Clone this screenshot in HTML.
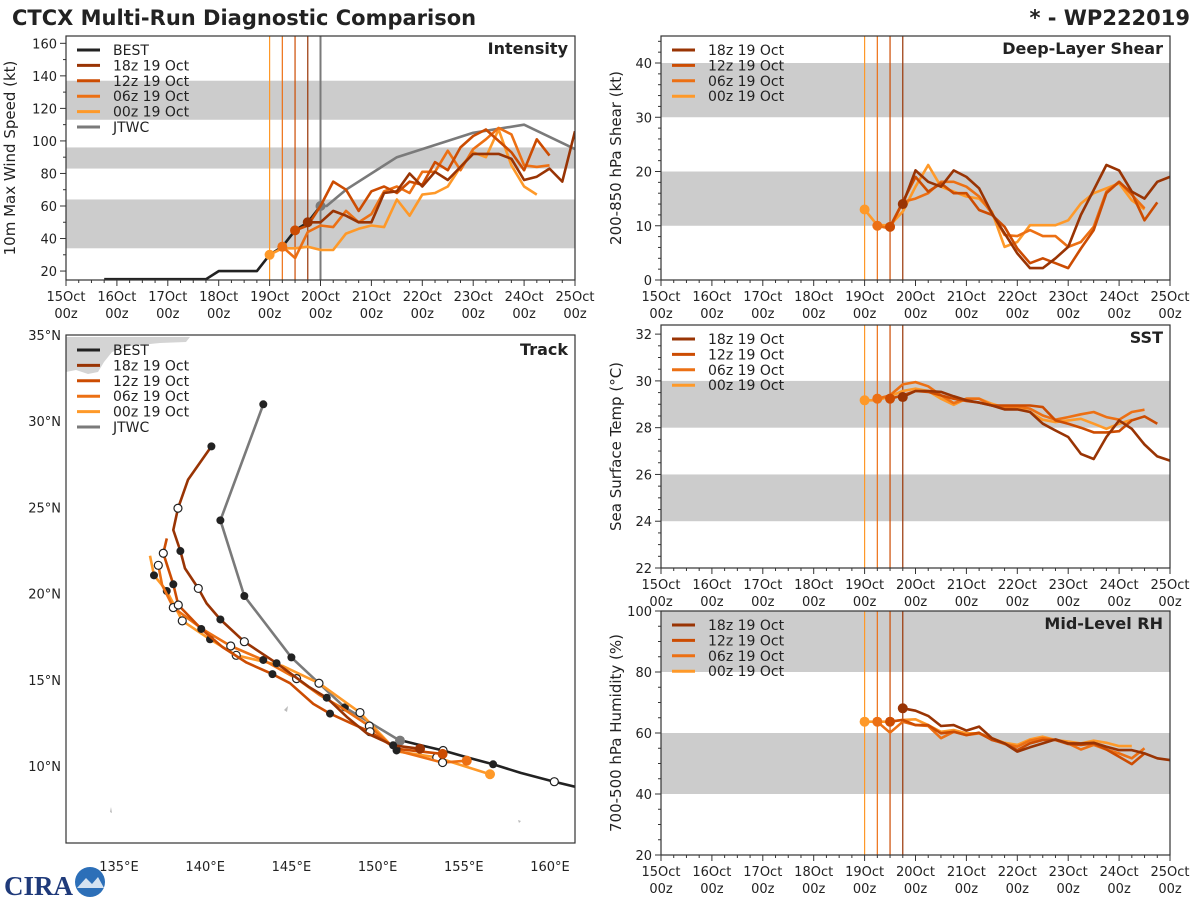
<!DOCTYPE html>
<html><head><meta charset="utf-8"><style>
html,body{margin:0;padding:0;background:#fff;}
svg{display:block;font-family:"DejaVu Sans","Liberation Sans",sans-serif;}
</style></head><body>
<svg id="chart" width="1200" height="900" viewBox="0 0 1200 900" xmlns="http://www.w3.org/2000/svg">
<text x="12" y="25" font-size="21" font-weight="bold" fill="#222">CTCX Multi-Run Diagnostic Comparison</text>
<text x="1190" y="25" font-size="21" font-weight="bold" fill="#222" text-anchor="end">* - WP222019</text>
<g>
<text x="4" y="895" font-size="27" font-weight="bold" fill="#1f3a7a" font-family="Liberation Serif, serif">CIRA</text>
<circle cx="90" cy="882" r="15" fill="#2c6fb8"/>
<path d="M77 888 L86 878 L92 884 L98 877 L104 888 Z" fill="#fff" opacity="0.8"/>
</g>
<g id="root"></g>
</svg>
<script>
// ---------- DATA ----------
const dayLabels = ['15Oct','16Oct','17Oct','18Oct','19Oct','20Oct','21Oct','22Oct','23Oct','24Oct','25Oct'];
const runNames = ['18z 19 Oct','12z 19 Oct','06z 19 Oct','00z 19 Oct'];
const runStarts = [4.75, 4.5, 4.25, 4.0];

// Intensity (kt)
const bestStart = 0.75;
const bestWind = [15,15,15,15,15,15,15,15,15,20,20,20,20,30,35,45,50,60];
const jtwcTimes = [5.0,5.12,5.5,6.5,8.0,9.0,10.0];
const jtwcWind = [60,60,70,90,105,110,95];
const wind18z = [50,50,57,54,50,50,68,69,80,72,81,76,84,92,92,92,89,76,78,83,75,106];
const wind12z = [45,48,60,75,70,57,69,72,68,75,73,87,82,96,103,107,100,93,82,101,91];
const wind06z = [35,28,44,48,47,57,50,55,69,72,68,81,81,94,82,95,101,108,104,85,84,85];
const wind00z = [30,34,34,35,33,33,43,46,48,47,64,54,67,68,72,84,93,90,107,85,72,67];

// Shear (kt)
const shear18z = [14,20.2,18.1,17.2,20.2,19,16.9,12.3,8.6,4.9,2.2,2.2,4,6.1,12,16.6,21.2,20.2,16.3,15,18.1,19];
const shear12z = [9.8,14.4,19,16.3,17.8,16,16,12.9,12,9.8,5.8,3.1,4,3.1,2.2,5.8,9.2,16,18.1,16,11,14.3];
const shear06z = [10,9.5,14.4,15,16,18.1,18.1,17.2,15.4,12.3,8.3,8.1,9.2,8.1,8.1,6.1,7,9.8,16.3,18.1,15.7,13.2];
const shear00z = [13,10.1,10.1,12.6,17.2,21.2,17.2,16.3,15.4,15,12.6,6.1,7,10.1,10.1,10.1,11,14.1,16,16.9,17.8,14.7,13];

// SST (C)
const sst18z = [29.31,29.57,29.57,29.53,29.34,29.17,29.07,28.95,28.78,28.78,28.67,28.17,27.88,27.6,26.88,26.66,27.6,28.31,27.95,27.28,26.77,26.59];
const sst12z = [29.24,29.38,29.57,29.53,29.38,29.24,29.14,29.07,28.95,28.95,28.95,28.95,28.88,28.31,28.17,28.0,27.8,27.8,27.85,28.31,28.48,28.17];
const sst06z = [29.24,29.38,29.85,29.95,29.77,29.38,29.05,29.24,29.24,28.95,28.85,28.91,28.81,28.52,28.34,28.45,28.57,28.67,28.45,28.34,28.67,28.77];
const sst00z = [29.17,29.17,29.34,29.57,29.67,29.57,29.24,28.98,29.24,29.24,29.02,28.85,28.85,28.67,28.34,28.24,28.31,28.38,28.17,27.95,28.17,28.34];

// Mid-level RH (%)
const rh18z = [68.1,67.3,65.6,62.3,62.6,60.8,62.1,58.3,56.6,53.9,55.3,56.6,57.9,56.6,56.6,56.8,55.5,54.4,54.4,53.3,51.7,51.1];
const rh12z = [63.7,64.3,62.6,62.6,59.9,60.4,59.3,60.1,57.7,56.6,54.4,56.6,57.7,57.7,56.4,56.1,56.6,54.6,52.2,49.8,53.3];
const rh06z = [63.7,60.1,63.7,62.6,62.3,58.3,60.4,59.3,59.9,57.9,56.4,55.5,57.5,58.3,57.7,56.6,54.6,56.1,54.6,53.3,51.7,55.0];
const rh00z = [63.7,63.7,63.7,64.3,64.5,62.6,60.4,61.0,59.9,59.9,58.3,56.8,56.1,57.9,58.8,57.7,57.2,56.6,57.5,56.8,55.7,55.7];

// Tracks (deg lon E, deg lat N); marks: 0 none, 1 filled, 2 open, 3 start dot
const bestLon = [151.3,152.5,153.8,155.2,156.7,158.3,160.25,161.45,162.5];
const bestLat = [11.5,11.2,10.9,10.5,10.1,9.6,9.09,8.8,8.5];
const bestMk  = [0,0,2,0,1,0,2,0,0];
const jtwcLon = [151.3,148.1,145.0,142.27,140.88,143.37];
const jtwcLat = [11.47,13.4,16.3,19.86,24.25,30.98];
const jtwcMk  = [3,1,1,1,1,1];
const trk18Lon = [152.46,150.9,149.37,148.2,147.05,146.0,144.14,142.27,140.88,140.08,139.6,138.83,138.56,138.15,138.42,139.0,140.36];
const trk18Lat = [11.0,11.2,11.9,12.86,13.96,14.6,15.96,17.21,18.5,19.43,20.3,21.46,22.47,23.69,24.95,26.6,28.54];
const trk18Mk  = [3,1,0,0,1,0,1,2,1,0,2,0,1,0,2,0,1];
const trk12Lon = [153.77,151.1,149.56,148.5,147.24,146.27,144.92,143.9,142.4,141.0,139.77,138.44,138.15,137.57,137.77];
const trk12Lat = [10.7,11.0,11.99,12.46,13.04,13.6,14.8,15.33,16.0,16.9,17.95,19.34,20.54,22.34,23.2];
const trk12Mk  = [3,1,2,0,1,0,0,1,0,0,1,2,1,2,0];
const trk06Lon = [155.17,153.77,151.1,149.52,147.82,146.66,145.3,143.37,141.48,139.9,138.15,137.5,137.28];
const trk06Lat = [10.31,10.2,10.9,12.32,13.44,14.1,15.07,16.15,16.96,17.9,19.19,20.5,21.64];
const trk06Mk  = [3,2,1,2,0,0,2,1,2,0,2,0,2];
const trk00Lon = [156.52,153.43,151.1,148.98,146.6,144.5,141.8,140.28,138.67,137.77,137.03,136.8];
const trk00Lat = [9.52,10.5,10.85,13.1,14.8,15.8,16.42,17.35,18.42,20.15,21.06,22.19];
const trk00Mk  = [3,2,0,2,2,0,2,1,2,1,1,0];

const runColors = ['#993404','#cc4c02','#ec7014','#fe9929'];
const bestColor = '#222222', jtwcColor = '#7a7a7a';

// ---------- DRAWING ----------
const NS = 'http://www.w3.org/2000/svg';
const root = document.getElementById('root');
function mk(tag, attrs, parent) {
  const e = document.createElementNS(NS, tag);
  for (const k in attrs) e.setAttribute(k, attrs[k]);
  (parent || root).appendChild(e);
  return e;
}
function label(parent, x, y, str, size, anchor, weight) {
  const t = mk('text', {x: x, y: y, 'font-size': size, 'text-anchor': anchor || 'start', fill: '#222', 'font-weight': weight || 'normal'}, parent);
  t.textContent = str;
  return t;
}

function timePanel(cfg) {
  const g = mk('g', {});
  
  
  const sx = t => cfg.x0 + t / 10 * (cfg.x1 - cfg.x0);
  const sy = v => cfg.y1 - (v - cfg.vmin) / (cfg.vmax - cfg.vmin) * (cfg.y1 - cfg.y0);
  const clipId = 'clip-' + cfg.name;
  const cp = mk('clipPath', {id: clipId}, g);
  mk('rect', {x: cfg.x0, y: cfg.y0, width: cfg.x1 - cfg.x0, height: cfg.y1 - cfg.y0}, cp);
  cfg.bands.forEach(b => {
    const r = mk('rect', {x: cfg.x0, y: sy(b[1]), width: cfg.x1 - cfg.x0, height: sy(b[0]) - sy(b[1]), fill: '#cccccc'}, g);
    
    
  });
  const plot = mk('g', {'clip-path': 'url(#' + clipId + ')'}, g);
  runStarts.forEach((t, i) => {
    const l = mk('line', {x1: sx(t), x2: sx(t), y1: cfg.y0, y2: cfg.y1, stroke: runColors[i], 'stroke-width': 1.2}, plot);
    
    
  });
  if (cfg.jtwcLine) {
    const l = mk('line', {x1: sx(5), x2: sx(5), y1: cfg.y0, y2: cfg.y1, stroke: jtwcColor, 'stroke-width': 2}, plot);
    
    
  }
  function series(times, vals, color, nm, dot) {
    const pts = vals.map((v, i) => sx(times(i)).toFixed(1) + ',' + sy(v).toFixed(1)).join(' ');
    const p = mk('polyline', {points: pts, fill: 'none', stroke: color, 'stroke-width': 2.6, 'stroke-linejoin': 'round'}, plot);
    
    
    if (dot) {
      const c = mk('circle', {cx: sx(times(0)), cy: sy(vals[0]), r: 5, fill: color}, plot);
      
      
    }
  }
  if (cfg.best) {
    series(i => bestStart + i * 0.25, bestWind, bestColor, 'best-line', false);
    series(i => jtwcTimes[i], jtwcWind, jtwcColor, 'jtwc-line', true);
  }
  for (let k = 3; k >= 0; k--) series(i => runStarts[k] + i * 0.25, cfg.runs[k], runColors[k], 'run-' + ['18z','12z','06z','00z'][k] + '-line', true);
  mk('rect', {x: cfg.x0, y: cfg.y0, width: cfg.x1 - cfg.x0, height: cfg.y1 - cfg.y0, fill: 'none', stroke: '#333', 'stroke-width': 1.2}, g);
  for (let q = 0; q <= 40; q++) {
    const x = sx(q / 4), maj = q % 4 === 0;
    mk('line', {x1: x, x2: x, y1: cfg.y1, y2: cfg.y1 + (maj ? 6 : 3), stroke: '#333', 'stroke-width': 1}, g);
    if (maj) {
      const t1 = label(g, x, cfg.y1 + 21, dayLabels[q / 4], 13, 'middle');
      
      
      label(g, x, cfg.y1 + 38, '00z', 13, 'middle');
    }
  }
  for (let v = Math.ceil(cfg.vmin / cfg.minor) * cfg.minor; v <= cfg.vmax; v += cfg.minor) {
    const y = sy(v), maj = Math.abs(v / cfg.major - Math.round(v / cfg.major)) < 1e-6;
    mk('line', {x1: cfg.x0, x2: cfg.x0 - (maj ? 6 : 3), y1: y, y2: y, stroke: '#333', 'stroke-width': 1}, g);
    if (maj) {
      const t = label(g, cfg.x0 - 9, y + 5, String(v), 13, 'end');
      
      
    }
  }
  const yl = label(g, 0, 0, cfg.ylabel, 15, 'middle');
  yl.setAttribute('transform', 'translate(' + cfg.ylx + ',' + ((cfg.y0 + cfg.y1) / 2) + ') rotate(-90)');
  
  
  const tt = label(g, cfg.x1 - 7, cfg.y0 + 18, cfg.title, 16, 'end', 'bold');
  
  
  legend(g, cfg.x0, cfg.y0, cfg.best);
}

function legend(g, x0, y0, full) {
  const items = [];
  if (full) items.push(['BEST', bestColor]);
  runNames.forEach((n, i) => items.push([n, runColors[i]]));
  if (full) items.push(['JTWC', jtwcColor]);
  const lg = mk('g', {}, g);
  
  
  items.forEach((it, i) => {
    const y = y0 + 14 + i * 15.4;
    mk('line', {x1: x0 + 11, x2: x0 + 34, y1: y, y2: y, stroke: it[1], 'stroke-width': 3}, lg);
    const t = label(lg, x0 + 47, y + 5, it[0], 14);
    
    
  });
}

timePanel({name: 'intensity-panel', x0: 66, x1: 575, y0: 36, y1: 280, vmin: 14.5, vmax: 164.5, major: 20, minor: 10,
  bands: [[34, 64], [83, 96], [113, 137]], ylabel: '10m Max Wind Speed (kt)', ylx: 15, title: 'Intensity', best: true, jtwcLine: true,
  runs: [wind18z, wind12z, wind06z, wind00z]});
timePanel({name: 'shear-panel', x0: 661, x1: 1170, y0: 36, y1: 280, vmin: 0, vmax: 44.98, major: 10, minor: 2,
  bands: [[10, 20], [30, 40]], ylabel: '200-850 hPa Shear (kt)', ylx: 621, title: 'Deep-Layer Shear', runs: [shear18z, shear12z, shear06z, shear00z]});
timePanel({name: 'sst-panel', x0: 661, x1: 1170, y0: 325, y1: 568, vmin: 22, vmax: 32.39, major: 2, minor: 0.5,
  bands: [[24, 26], [28, 30]], ylabel: 'Sea Surface Temp (°C)', ylx: 621, title: 'SST', runs: [sst18z, sst12z, sst06z, sst00z]});
timePanel({name: 'rh-panel', x0: 661, x1: 1170, y0: 611, y1: 855, vmin: 20, vmax: 100, major: 20, minor: 5,
  bands: [[40, 60], [80, 100]], ylabel: '700-500 hPa Humidity (%)', ylx: 621, title: 'Mid-Level RH', runs: [rh18z, rh12z, rh06z, rh00z]});

// ---------- TRACK ----------
(function () {
  const X0 = 66, X1 = 575, Y0 = 335, Y1 = 843;
  const g = mk('g', {});
  
  
  const sx = lon => 119 + (lon - 135) * 17.24;
  const sy = lat => 766 - (lat - 10) * 17.24;
  const cp = mk('clipPath', {id: 'clip-track'}, g);
  mk('rect', {x: X0, y: Y0, width: X1 - X0, height: Y1 - Y0}, cp);
  const plot = mk('g', {'clip-path': 'url(#clip-track)'}, g);
  const land = mk('path', {d: 'M66 337 L190 337 L186 342 L160 343 L130 346 L112 352 L104 362 L98 372 L88 374 L76 370 L66 372 Z', fill: '#d4d4d4'}, plot);
  
  
  mk('path', {d: 'M284 710 L288 706 L287 712 Z M110 812 L111 807 L112 813 Z M518 820 L521 821 L519 823 Z', fill: '#bbbbbb'}, plot);
  function track(lons, lats, mks, color, nm, w) {
    const pts = lons.map((l, i) => sx(l).toFixed(1) + ',' + sy(lats[i]).toFixed(1)).join(' ');
    const p = mk('polyline', {points: pts, fill: 'none', stroke: color, 'stroke-width': w, 'stroke-linejoin': 'round'}, plot);
    
    
    mks.forEach((m, i) => {
      if (!m) return;
      const a = {cx: sx(lons[i]), cy: sy(lats[i]), r: m === 3 ? 5 : 4};
      if (m === 1) { a.fill = '#222'; }
      else if (m === 2) { a.fill = '#fff'; a.stroke = '#222'; a['stroke-width'] = 1.2; }
      else { a.fill = color; }
      const c = mk('circle', a, plot);
      
      
    });
  }
  track(bestLon, bestLat, bestMk, bestColor, 'best-track', 2.6);
  track(jtwcLon, jtwcLat, jtwcMk, jtwcColor, 'jtwc-track', 2.6);
  track(trk00Lon, trk00Lat, trk00Mk, runColors[3], 'track-00z', 2.6);
  track(trk06Lon, trk06Lat, trk06Mk, runColors[2], 'track-06z', 2.6);
  track(trk12Lon, trk12Lat, trk12Mk, runColors[1], 'track-12z', 2.6);
  track(trk18Lon, trk18Lat, trk18Mk, runColors[0], 'track-18z', 2.6);
  mk('rect', {x: X0, y: Y0, width: X1 - X0, height: Y1 - Y0, fill: 'none', stroke: '#333', 'stroke-width': 1.2}, g);
  for (let lon = 135; lon <= 160; lon += 5) {
    const t = label(g, sx(lon), 871, lon + '°E', 13, 'middle');
    
    
  }
  for (let lat = 10; lat <= 35; lat += 5) {
    const t = label(g, 61, sy(lat) + 5, lat + '°N', 13, 'end');
    
    
  }
  const tt = label(g, X1 - 7, Y0 + 20, 'Track', 16, 'end', 'bold');
  
  
  legend(g, X0, Y0 + 1, true);
})();
</script>
</body></html>
